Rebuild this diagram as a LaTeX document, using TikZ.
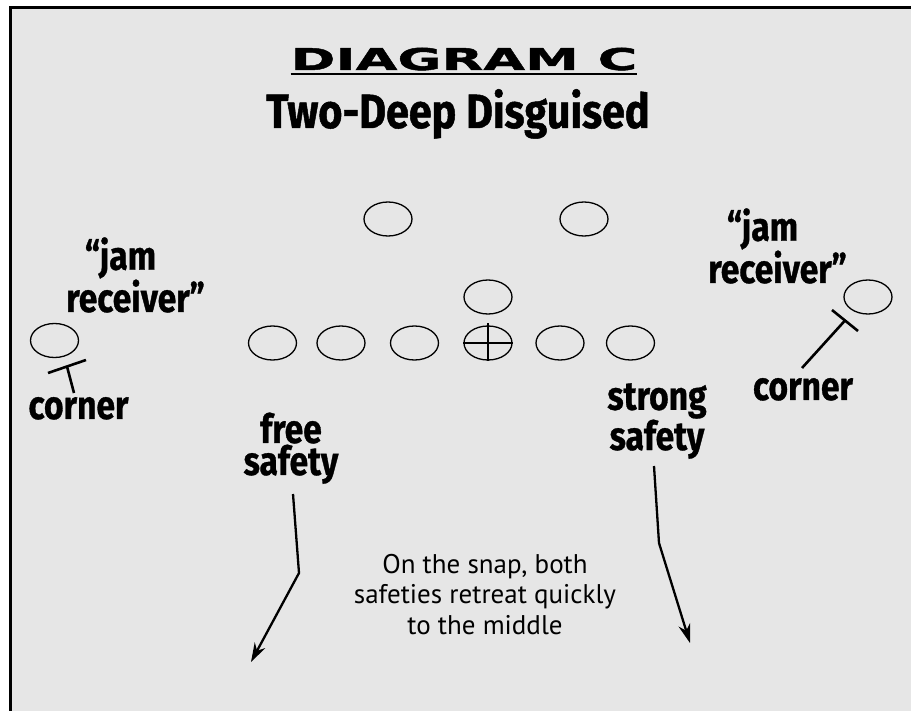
\documentclass[tikz,border=0pt]{standalone}
\usepackage{fontspec}
\usetikzlibrary{arrows.meta,shapes.geometric,calc}
\newfontfamily\titlefont[FakeStretch=1.8,FakeBold=1.5]{DejaVu Sans}
\newfontfamily\subfont[FakeStretch=0.86,FakeBold=1]{Fira Sans}
\newfontfamily\labfont[FakeStretch=0.84,FakeBold=0.8]{Fira Sans}
\newfontfamily\bodyfont{PT Sans}
\definecolor{bggray}{HTML}{E6E6E6}
\begin{document}
\begin{tikzpicture}[x=1pt,y=-1pt,
  player/.style={ellipse,draw,line width=1.3pt,minimum width=48pt,minimum height=34pt,inner sep=0pt},
  lab/.style={align=center,inner sep=0pt,font=\labfont\bfseries\fontsize{40}{31}\selectfont},
  tbar/.style={line width=2.6pt},
  move/.style={line width=2.3pt,-{Stealth[length=19pt,width=12pt]}}]
\useasboundingbox (0,0) rectangle (911,711);
\fill[bggray] (10,7) rectangle (911,711);
\draw[line width=3.3pt] (10.8,711) -- (10.8,7.6) -- (911,7.6);

% titles
\node[inner sep=0pt,anchor=base,font=\titlefont\bfseries\fontsize{30}{32}\selectfont] (title) at (464,70) {DIAGRAM C};
\draw[line width=2.5pt] ([yshift=-4pt]title.base west) -- ([yshift=-4pt]title.base east);
\node[inner sep=0pt,anchor=base,font=\subfont\bfseries\fontsize{48}{50}\selectfont] (sub) at (458,128) {Two-Deep Disguised};

% players
\node[player] (lb1) at (388,219) {};
\node[player] (lb2) at (584,219) {};
\node[player] (mid) at (488,297) {};
\node[player] (o1) at (272.5,343) {};
\node[player] (o2) at (341,343) {};
\node[player] (o3) at (414.5,343) {};
\node[player] (c) at (488,343) {};
\node[player] (o5) at (560,343) {};
\node[player] (o6) at (630.5,343) {};
\draw[line width=1.3pt] ([yshift=2pt]c.north) -- (c.south);
\draw[line width=1.3pt] (c.west) -- (c.east);
\node[player] (wrl) at (54.5,340.5) {};
\node[player] (wrr) at (868,297) {};

% corners (T marks)
\coordinate (lbarA) at (48,373);
\coordinate (lbarB) at (86,360);
\coordinate (lstem) at (74,393);
\draw[tbar] (lbarA) -- (lbarB);
\draw[tbar] ($(lbarA)!0.5!(lbarB)$) -- (lstem);
\coordinate (rbarA) at (832,310);
\coordinate (rbarB) at (858,331);
\coordinate (rstem) at (802,368);
\draw[tbar] (rbarA) -- (rbarB);
\draw[tbar] ($(rbarA)!0.5!(rbarB)$) -- (rstem);

% labels (base anchor = baseline of the last line)
\node[lab,anchor=base] (ljam) at (128,312) {\llap{“}jam\\receiver\rlap{”}};
\node[lab,anchor=base] (rjam) at (770,283) {\llap{“}jam\\receiver\rlap{”}};
\node[lab,anchor=base] (lcorner) at (78.5,419) {corner};
\node[lab,anchor=base] (rcorner) at (803,400) {corner};
\node[lab,anchor=base] (fs) at (291,475) {free\\safety};
\node[lab,anchor=base] (ss) at (657,450) {strong\\safety};

% safeties' moves
\coordinate (fs0) at (293,494);
\coordinate (fs1) at (299,573);
\coordinate (fs2) at (251,662);
\draw[move] (fs0) -- (fs1) -- (fs2);
\coordinate (ss0) at (654,466);
\coordinate (ss1) at (659,543);
\coordinate (ss2) at (690,643);
\draw[move] (ss0) -- (ss1) -- (ss2);

\node[align=center,inner sep=0pt,anchor=base,font=\bodyfont\fontsize{27}{30.5}\selectfont] (note) at (485,634) {On the snap, both\\safeties retreat quickly\\to the middle};
\end{tikzpicture}
\end{document}
